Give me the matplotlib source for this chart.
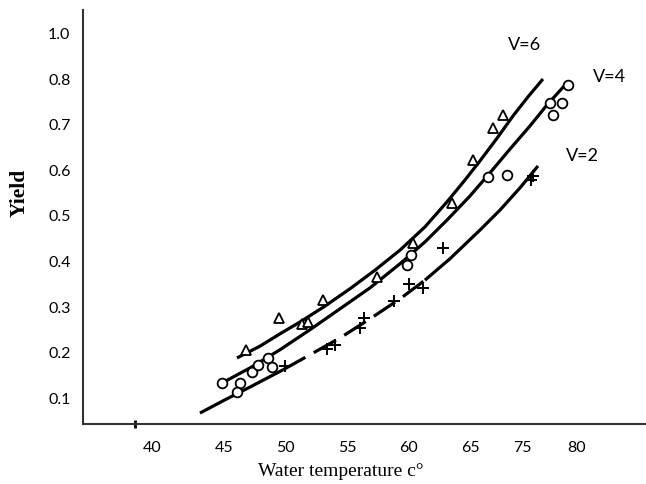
import matplotlib
matplotlib.use("Agg")
import matplotlib.pyplot as plt

# ---- data ----
# fitted curves
v6_curve_x = [46.06, 47.93, 49.55, 51.18, 53.21, 55.24, 57.28, 59.31, 61.34, 63.13,
              64.59, 65.81, 67.20, 68.50, 69.72, 70.93]
v6_curve_y = [0.188, 0.214, 0.241, 0.267, 0.302, 0.340, 0.381, 0.425, 0.476, 0.531,
              0.579, 0.621, 0.671, 0.720, 0.762, 0.801]
v4_curve_x = [44.84, 47.11, 49.55, 51.99, 54.43, 56.87, 59.31, 61.34, 63.13, 65.00,
              66.63, 68.25, 69.88, 71.26, 72.97]
v4_curve_y = [0.133, 0.166, 0.206, 0.250, 0.296, 0.342, 0.395, 0.443, 0.491, 0.544,
              0.595, 0.647, 0.698, 0.744, 0.795]
v2_curve_x = [43.05, 45.08, 47.11, 49.80, 51.99, 54.43, 56.87, 59.31, 61.34, 63.37,
              65.81, 67.44, 69.07, 70.53]
v2_curve_y = [0.067, 0.096, 0.124, 0.162, 0.195, 0.232, 0.274, 0.318, 0.359, 0.406,
              0.469, 0.513, 0.562, 0.610]

# observations
v6_obs_x = [46.79, 49.47, 51.34, 51.83, 53.05, 57.44, 60.37, 63.54, 65.24, 66.87, 67.68]
v6_obs_y = [0.206, 0.276, 0.263, 0.267, 0.315, 0.366, 0.441, 0.529, 0.623, 0.693, 0.722]
v4_obs_x = [44.84, 46.30, 46.06, 47.28, 47.76, 48.58, 48.90, 59.88, 60.20, 66.46, 68.01, 71.50, 72.48, 71.75, 72.97]
v4_obs_y = [0.133, 0.133, 0.113, 0.157, 0.173, 0.188, 0.168, 0.392, 0.414, 0.586, 0.590, 0.748, 0.748, 0.722, 0.788]
v2_obs_x = [49.96, 53.37, 54.02, 56.06, 56.38, 58.82, 60.04, 61.18, 62.80, 69.96, 70.12]
v2_obs_y = [0.170, 0.208, 0.216, 0.254, 0.276, 0.313, 0.351, 0.342, 0.430, 0.579, 0.588]

series_names = ["V=6", "V=4", "V=2"]
name_pos_x = [69.47, 76.38, 74.11]
name_pos_y = [0.876, 0.805, 0.632]

ytick_pos = [0.1, 0.2, 0.3, 0.4, 0.5, 0.6, 0.7, 0.8, 0.9]
ytick_labels = ["0.1", "0.2", "0.3", "0.4", "0.5", "0.6", "0.7", "0.8", "1.0"]
xtick_pos = [39.15, 45, 50, 55, 60, 65, 69.3, 73.7]
xtick_labels = ["40", "45", "50", "55", "60", "65", "75", "80"]
xmark_pos = [37.76]

# ---- figure ----
fig = plt.figure(figsize=(6.46, 4.84), dpi=100)
ax = fig.add_axes([83 / 646, 60 / 484, 563 / 646, 414 / 484])
ax.set_xlim(33.54, 79.31)
ax.set_ylim(0.0429, 0.9527)

lw = 2.3
kw = dict(color="black", lw=lw, solid_capstyle="butt", solid_joinstyle="round")
ax.plot(v6_curve_x, v6_curve_y, **kw)
ax.plot(v4_curve_x, v4_curve_y, **kw)
# lower curve: solid, broken into dashes in its middle part
ax.plot(v2_curve_x[:4], v2_curve_y[:4], **kw)
ax.plot(v2_curve_x[3:9], v2_curve_y[3:9], color="black", lw=lw, dashes=(8, 3))
ax.plot(v2_curve_x[8:], v2_curve_y[8:], **kw)

ax.plot(v6_obs_x, v6_obs_y, linestyle="none", marker="^", ms=6.5, mfc="white",
        mec="black", mew=1.3)
ax.plot(v4_obs_x, v4_obs_y, linestyle="none", marker="o", ms=7, mfc="white",
        mec="black", mew=1.3)
ax.plot(v2_obs_x, v2_obs_y, linestyle="none", marker="+", ms=8, mec="black",
        mew=1.4)

for name, tx, ty in zip(series_names, name_pos_x, name_pos_y):
    ax.text(tx, ty, name, fontsize=13, family="Lato", ha="center", va="center")

for side in ["top", "right"]:
    ax.spines[side].set_visible(False)
for side in ["left", "bottom"]:
    ax.spines[side].set_linewidth(1.5)
    ax.spines[side].set_color("#333333")

ax.set_yticks(ytick_pos)
ax.set_yticklabels(ytick_labels, fontsize=11.5, family="Lato")
ax.set_xticks(xtick_pos)
ax.set_xticklabels(xtick_labels, fontsize=11.5, family="Lato")
ax.tick_params(axis="both", which="major", length=0)
ax.tick_params(axis="y", pad=9)
ax.tick_params(axis="x", pad=12)
ax.set_xticks(xmark_pos, minor=True)
ax.tick_params(axis="x", which="minor", direction="inout", length=6, width=2,
               color="black")
ax.tick_params(axis="y", which="minor", length=0)

fig.text(20 / 646, 1 - 193 / 484, "Yield", fontsize=15.5, family="Liberation Serif",
         fontweight="bold", rotation=90, ha="center", va="center")
fig.text(341 / 646, 1 - 471 / 484, "Water temperature c°", fontsize=14,
         family="Liberation Serif", ha="center", va="center")

fig.savefig("out.png", dpi=100)
